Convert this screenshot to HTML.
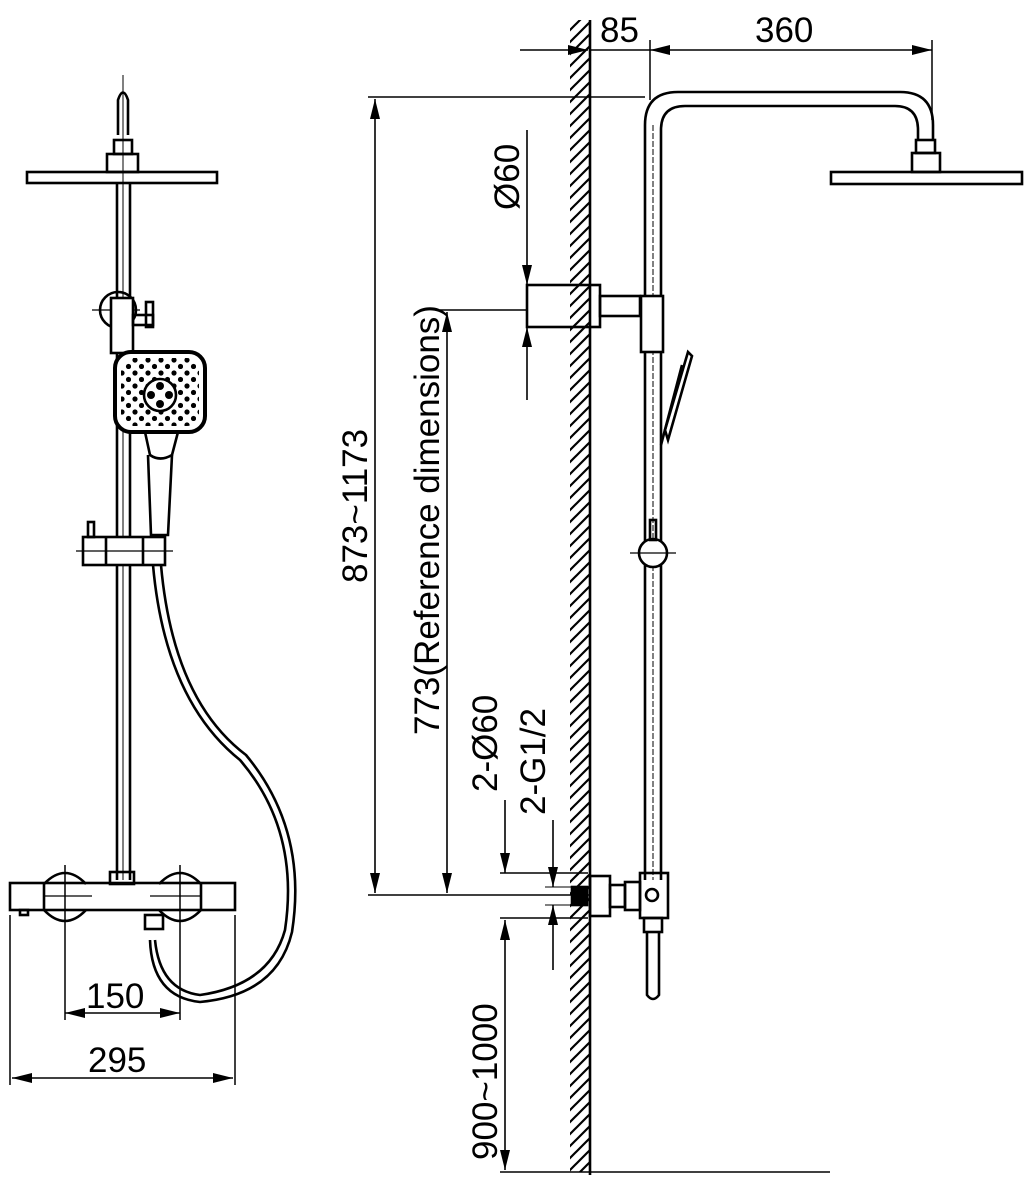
<!DOCTYPE html>
<html><head><meta charset="utf-8"><style>
html,body{margin:0;padding:0;background:#fff;}
svg{display:block;}
text{font-family:"Liberation Sans",sans-serif;font-size:35px;fill:#000;}
</style></head><body>
<svg width="1032" height="1200" viewBox="0 0 1032 1200" xmlns="http://www.w3.org/2000/svg">
<defs>
<marker id="a" viewBox="0 0 20 10" refX="20" refY="5" markerWidth="20" markerHeight="10" markerUnits="userSpaceOnUse" orient="auto-start-reverse"><path d="M0,0 L20,5 L0,10 z" fill="#000"/></marker>
<pattern id="h" width="12" height="12" patternUnits="userSpaceOnUse"><path d="M-3,15 L15,-3 M-3,3 L3,-3 M9,15 L15,9" stroke="#000" stroke-width="2.2"/></pattern>
<pattern id="d" x="118" y="356" width="13" height="13" patternUnits="userSpaceOnUse"><circle cx="4" cy="4" r="2.6" fill="#000"/><circle cx="10.5" cy="10.5" r="2.6" fill="#000"/></pattern>
</defs>
<g fill="none" stroke="#000" stroke-width="2.6">
<!-- LEFT VIEW -->
<path d="M118,135 L118,100 Q123,85 128,100 L128,135"/>
<rect x="114" y="140" width="18" height="14"/>
<rect x="107" y="154" width="31" height="18"/>
<rect x="27" y="172" width="190" height="11"/>
<line x1="123" y1="75" x2="123" y2="880" stroke-width="1"/>
<line x1="117" y1="183" x2="117" y2="880"/><line x1="130" y1="183" x2="130" y2="880"/>
<circle cx="118" cy="310" r="18"/>
<line x1="92" y1="310" x2="140" y2="310" stroke-width="1.2"/>
<rect x="111" y="298" width="22" height="55" fill="#fff"/>
<rect x="133" y="315" width="20" height="10"/><rect x="146" y="302" width="7" height="25"/>
<rect x="115" y="352" width="90" height="80" rx="16" stroke-width="4" fill="#fff"/>
<rect x="121" y="358" width="78" height="68" rx="12" fill="url(#d)" stroke="none"/>
<circle cx="160" cy="395" r="16" fill="#fff"/>
<circle cx="160" cy="386" r="4" fill="#000" stroke="none"/><circle cx="160" cy="404" r="4" fill="#000" stroke="none"/>
<circle cx="151" cy="395" r="4" fill="#000" stroke="none"/><circle cx="169" cy="395" r="4" fill="#000" stroke="none"/>
<path d="M145,432 L150,455 Q160,462 172,455 L178,432"/>
<path d="M148,455 L151,535 L168,535 L172,455"/>
<rect x="83" y="537" width="82" height="28" fill="#fff"/>
<line x1="106" y1="537" x2="106" y2="565"/><line x1="143" y1="537" x2="143" y2="565"/>
<line x1="76" y1="551" x2="173" y2="551" stroke-width="1.2"/>
<rect x="88" y="522" width="6" height="15"/>
<!-- hose -->
<path d="M153,565 Q165,700 240,760 Q300,830 285,930 Q270,985 200,995 Q160,990 155,940" />
<path d="M161,565 Q173,700 246,755 Q308,830 292,932 Q277,995 200,1002 Q152,997 150,940" />
<rect x="145" y="915" width="18" height="14"/>
<rect x="110" y="872" width="24" height="12"/>
<rect x="10" y="883" width="225" height="27"/>
<path d="M44,884 Q65,862 86,884 M44,910 Q65,932 86,910 M159,884 Q180,862 201,884 M159,910 Q180,932 201,910"/>
<line x1="44" y1="884" x2="44" y2="910"/><line x1="201" y1="884" x2="201" y2="910"/>
<line x1="65" y1="865" x2="65" y2="1020" stroke-width="1.5"/>
<line x1="180" y1="865" x2="180" y2="1020" stroke-width="1.5"/>
<line x1="44" y1="896" x2="92" y2="896" stroke-width="1.2"/><line x1="150" y1="896" x2="201" y2="896" stroke-width="1.2"/>
<rect x="20" y="910" width="8" height="5"/>
<line x1="10" y1="915" x2="10" y2="1085" stroke-width="1.5"/>
<line x1="235" y1="915" x2="235" y2="1085" stroke-width="1.5"/>
<line x1="65" y1="1013" x2="180" y2="1013" stroke-width="1.6" marker-start="url(#a)" marker-end="url(#a)"/>
<line x1="12" y1="1078" x2="233" y2="1078" stroke-width="1.6" marker-start="url(#a)" marker-end="url(#a)"/>

<!-- RIGHT VIEW -->
<rect x="570" y="20" width="20" height="1152" fill="url(#h)" stroke="none"/>
<line x1="590" y1="20" x2="590" y2="1175"/>
<line x1="500" y1="1172" x2="830" y2="1172" stroke-width="1.5"/>
<line x1="650" y1="40" x2="650" y2="100" stroke-width="1.5"/>
<line x1="932" y1="40" x2="932" y2="120" stroke-width="1.5"/>
<line x1="520" y1="50" x2="588" y2="50" stroke-width="1.6" marker-end="url(#a)"/>
<line x1="590" y1="50" x2="650" y2="50" stroke-width="1.6"/>
<line x1="650" y1="50" x2="932" y2="50" stroke-width="1.6" marker-start="url(#a)" marker-end="url(#a)"/>
<path d="M645,880 L645,125 Q645,92 678,92 L900,92 Q933,92 933,125 L933,140"/>
<path d="M661,880 L661,130 Q661,106 685,106 L895,106 Q918,106 918,130 L918,140"/>
<line x1="653" y1="125" x2="653" y2="880" stroke-width="1" stroke-dasharray="6,2"/>
<rect x="916" y="140" width="19" height="13"/>
<rect x="912" y="153" width="28" height="19"/>
<rect x="831" y="172" width="191" height="12"/>
<!-- bracket -->
<rect x="527" y="285" width="73" height="42"/>
<rect x="600" y="296" width="40" height="20"/>
<rect x="641" y="296" width="22" height="56" fill="#fff"/>
<path d="M665,430 L688,352 L692,356 L668,440 Z"/>
<path d="M661,445 L682,365"/>
<circle cx="653" cy="553" r="14" fill="#fff"/>
<line x1="630" y1="553" x2="676" y2="553" stroke-width="1.2"/>
<rect x="650" y="520" width="6" height="20"/>
<!-- bottom connector -->
<rect x="590" y="876" width="20" height="40"/>
<rect x="610" y="885" width="15" height="22"/>
<rect x="625" y="882" width="15" height="28"/>
<rect x="640" y="873" width="28" height="45"/>
<circle cx="652" cy="895" r="6"/>
<rect x="644" y="918" width="18" height="14"/>
<path d="M647,932 L647,995 Q653,1003 659,995 L659,932"/>
<rect x="572" y="887" width="15" height="18" fill="#000"/>
<!-- dims -->
<line x1="368" y1="97" x2="645" y2="97" stroke-width="1.5"/>
<line x1="375" y1="99" x2="375" y2="893" stroke-width="1.6" marker-start="url(#a)" marker-end="url(#a)"/>
<line x1="440" y1="310" x2="527" y2="310" stroke-width="1.5"/>
<line x1="447" y1="312" x2="447" y2="893" stroke-width="1.6" marker-start="url(#a)" marker-end="url(#a)"/>
<line x1="368" y1="895" x2="590" y2="895" stroke-width="1.5"/>
<line x1="527" y1="130" x2="527" y2="285" stroke-width="1.6" marker-end="url(#a)"/>
<line x1="527" y1="327" x2="527" y2="400" stroke-width="1.6" marker-start="url(#a)"/>
<line x1="500" y1="873" x2="588" y2="873" stroke-width="1.5"/>
<line x1="500" y1="918" x2="588" y2="918" stroke-width="1.5"/>
<line x1="505" y1="800" x2="505" y2="873" stroke-width="1.6" marker-end="url(#a)"/>
<line x1="505" y1="920" x2="505" y2="1170" stroke-width="1.6" marker-start="url(#a)" marker-end="url(#a)"/>
<line x1="553" y1="820" x2="553" y2="887" stroke-width="1.6" marker-end="url(#a)"/>
<line x1="553" y1="905" x2="553" y2="970" stroke-width="1.6" marker-start="url(#a)"/>
<line x1="545" y1="887" x2="572" y2="887" stroke-width="1"/><line x1="545" y1="905" x2="572" y2="905" stroke-width="1"/>
</g>
<text x="86" y="1008">150</text>
<text x="88" y="1072">295</text>
<text x="600" y="42">85</text>
<text x="755" y="42">360</text>
<text transform="translate(367,583) rotate(-90)">873~1173</text>
<text transform="translate(439,735) rotate(-90)">773(Reference dimensions)</text>
<text transform="translate(519,210) rotate(-90)">Ø60</text>
<text transform="translate(497,792) rotate(-90)">2-Ø60</text>
<text transform="translate(545,815) rotate(-90)">2-G1/2</text>
<text transform="translate(497,1160) rotate(-90)">900~1000</text>
</svg>
</body></html>
